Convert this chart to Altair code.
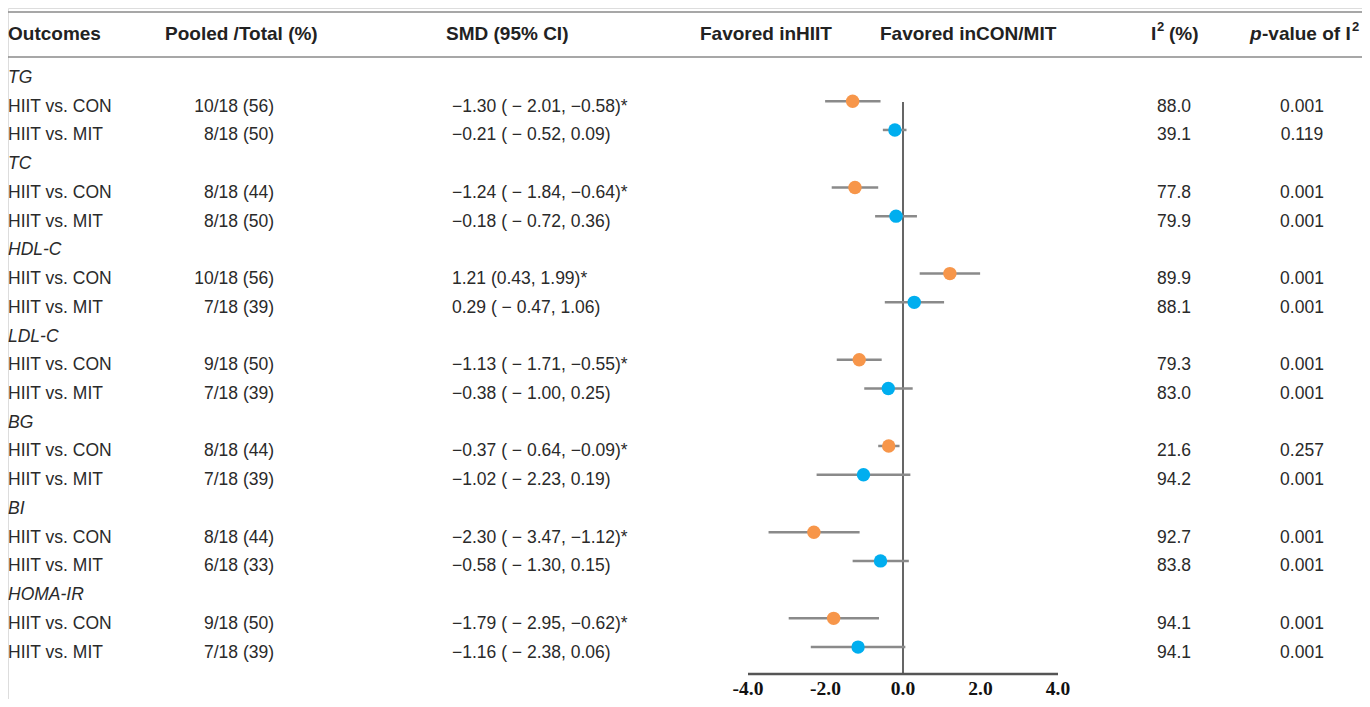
import altair as alt
import pandas as pd

# ---------------- data ----------------
outcomes = ["TG", "TC", "HDL-C", "LDL-C", "BG", "BI", "HOMA-IR"]
pooled_con = ["10/18 (56)", "8/18 (44)", "10/18 (56)", "9/18 (50)", "8/18 (44)", "8/18 (44)", "9/18 (50)"]
pooled_mit = ["8/18 (50)", "8/18 (50)", "7/18 (39)", "7/18 (39)", "7/18 (39)", "6/18 (33)", "7/18 (39)"]
smd_con = [-1.30, -1.24, 1.21, -1.13, -0.37, -2.30, -1.79]
lo_con = [-2.01, -1.84, 0.43, -1.71, -0.64, -3.47, -2.95]
hi_con = [-0.58, -0.64, 1.99, -0.55, -0.09, -1.12, -0.62]
smd_mit = [-0.21, -0.18, 0.29, -0.38, -1.02, -0.58, -1.16]
lo_mit = [-0.52, -0.72, -0.47, -1.00, -2.23, -1.30, -2.38]
hi_mit = [0.09, 0.36, 1.06, 0.25, 0.19, 0.15, 0.06]
i2_con = [88.0, 77.8, 89.9, 79.3, 21.6, 92.7, 94.1]
i2_mit = [39.1, 79.9, 88.1, 83.0, 94.2, 83.8, 94.1]
p_con = ["0.001", "0.001", "0.001", "0.001", "0.257", "0.001", "0.001"]
p_mit = ["0.119", "0.001", "0.001", "0.001", "0.001", "0.001", "0.001"]
tick_values = [-4.0, -2.0, 0.0, 2.0, 4.0]


def fmt(v, lead=False):
    s = f"{abs(v):.2f}"
    if v < 0:
        return (" \u2212 " if lead else "\u2212") + s
    return s


def smd_text(m, lo, hi):
    star = "*" if (hi < 0 or lo > 0) else ""
    return fmt(m) + " (" + fmt(lo, lead=True) + ", " + fmt(hi) + ")" + star


headers = []
rows = []
for k, name in enumerate(outcomes):
    headers.append({"row": 3 * k, "label": name})
    for j, (cmp, pooled, m, lo, hi, i2, p) in enumerate([
        ("CON", pooled_con[k], smd_con[k], lo_con[k], hi_con[k], i2_con[k], p_con[k]),
        ("MIT", pooled_mit[k], smd_mit[k], lo_mit[k], hi_mit[k], i2_mit[k], p_mit[k]),
    ]):
        rows.append({
            "row": 3 * k + 1 + j,
            "cmp": cmp,
            "label": "HIIT vs. " + cmp,
            "pooled": pooled,
            "smd": m,
            "lo": lo,
            "hi": hi,
            "smdtxt": smd_text(m, lo, hi),
            "i2": f"{i2:.1f}",
            "p": p,
        })

df_rows = pd.DataFrame(rows)
df_head = pd.DataFrame(headers)
df_ticks = pd.DataFrame({"v": tick_values, "t": [f"{v:.1f}" for v in tick_values]})
df_axis = pd.DataFrame({"a": [min(tick_values)], "b": [max(tick_values)]})
df_zero = pd.DataFrame({"z": [0.0]})

# ---------------- layout ----------------
W, H = 1354, 691
XDOM = [-23.097, 11.845]
xs = alt.Scale(domain=XDOM, nice=False, zero=False)
ys = alt.Scale(domain=[-2.367, 21.685], nice=False, zero=False, reverse=True)
df_span = pd.DataFrame({"a": [XDOM[0]], "b": [XDOM[1]]})

TXT = "#2a2a2a"
FONT = "Liberation Sans"
FS = 17.5


def ycol():
    return alt.Y("row:Q", scale=ys, axis=None)


def col_text(field, xpx, align, data=df_rows, **kw):
    return alt.Chart(data).mark_text(
        align=align, baseline="middle", font=FONT, fontSize=FS, color=TXT, dy=2, **kw
    ).encode(x=alt.value(xpx), y=ycol(), text=f"{field}:N")


def header(text, xpx, align="left", size=19, **kw):
    return alt.Chart(df_zero).mark_text(
        align=align, baseline="middle", font=FONT, fontSize=size, fontWeight="bold",
        color="#222222", **kw
    ).encode(x=alt.value(xpx), y=alt.value(26), text=alt.value(text))


def hline(ypx):
    return alt.Chart(df_span).mark_rule(color="#8a8a8a", strokeWidth=1.5).encode(
        x=alt.X("a:Q", scale=xs, axis=None), x2="b:Q", y=alt.value(ypx), y2=alt.value(ypx)
    )


layers = [
    hline(4),
    hline(49),
    header("Outcomes", 0),
    header("Pooled /Total (%)", 157),
    header("SMD (95% CI)", 438),
    header("Favored inHIIT", 692),
    header("Favored inCON/MIT", 872),
    header("I", 1143),
    header("2", 1149, size=13, dy=-7),
    header("(%)", 1161),
    header("p", 1242, fontStyle="italic"),
    header("-value of I", 1254),
    header("2", 1344, size=13, dy=-7),
    # outcome group labels
    col_text("label", 0, "left", data=df_head, fontStyle="italic"),
    col_text("label", 0, "left"),
    col_text("pooled", 266, "right"),
    col_text("smdtxt", 444, "left"),
    col_text("i2", 1166, "center"),
    col_text("p", 1294, "center"),
    # zero line
    alt.Chart(df_zero).mark_rule(color="#666666", strokeWidth=2).encode(
        x=alt.X("z:Q", scale=xs, axis=None), y=alt.value(94), y2=alt.value(666)
    ),
    # axis line
    alt.Chart(df_axis).mark_rule(color="#555555", strokeWidth=2.5).encode(
        x=alt.X("a:Q", scale=xs, axis=None), x2="b:Q", y=alt.value(666), y2=alt.value(666)
    ),
    # tick labels
    alt.Chart(df_ticks).mark_text(
        align="center", baseline="alphabetic", font="Liberation Serif", fontSize=19.5,
        fontWeight="bold", color="#111111"
    ).encode(x=alt.X("v:Q", scale=xs, axis=None), y=alt.value(687), text="t:N"),
    # CI lines
    alt.Chart(df_rows).mark_rule(color="#8a8a8a", strokeWidth=2.5, yOffset=-3.5).encode(
        x=alt.X("lo:Q", scale=xs, axis=None), x2="hi:Q", y=ycol()
    ),
    # points
    alt.Chart(df_rows).mark_circle(size=180, opacity=1, yOffset=-3.5).encode(
        x=alt.X("smd:Q", scale=xs, axis=None),
        y=ycol(),
        color=alt.Color("cmp:N", scale=alt.Scale(domain=["CON", "MIT"],
                                                 range=["#F7964A", "#00AEEF"]), legend=None),
    ),
]

chart = alt.layer(*layers).properties(
    width=W, height=H, autosize=alt.AutoSizeParams(type="none"), padding=0
).configure_view(stroke="transparent", strokeWidth=0).configure(background="white")

chart.save("out.html", embed_options={"renderer": "svg", "actions": False})
